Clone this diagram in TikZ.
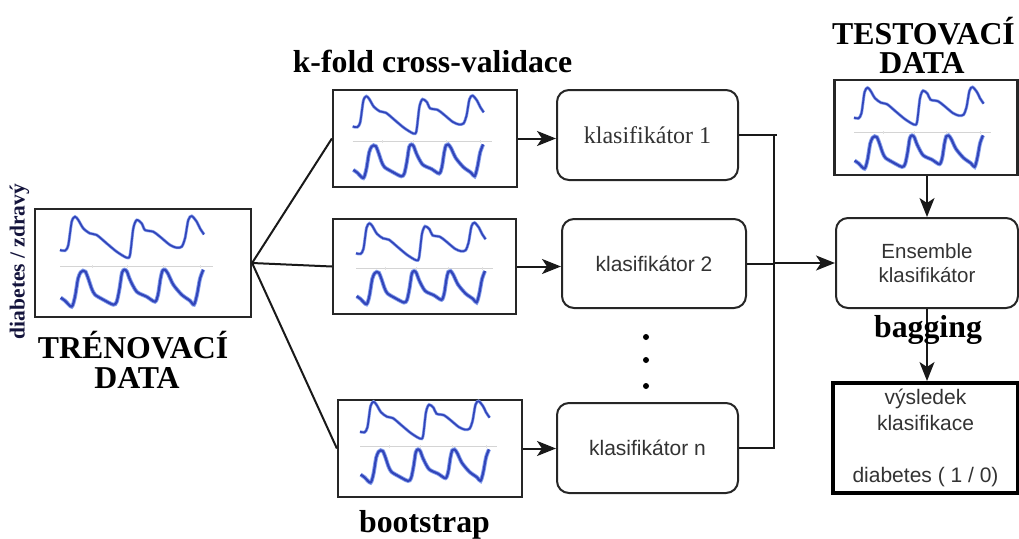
\documentclass[tikz,border=0pt]{standalone}
\usepackage{fontspec}
\setmainfont{Liberation Serif}
\newfontfamily\arialf{Liberation Sans}
\usetikzlibrary{arrows.meta}
\definecolor{wblue}{HTML}{3245BA}
\definecolor{whalo}{HTML}{86A0EC}
\definecolor{txtgray}{HTML}{333333}
\definecolor{navytxt}{HTML}{14143C}
\definecolor{sepgray}{HTML}{D4D4D4}
\tikzset{
  wave/.pic={
    \draw[sepgray, line width=1.4pt] (0,0) -- (152.7,0);
    \foreach \t in {32,67,103,140} \draw[sepgray!70, line width=0.6pt] (\t,-1.5) -- (\t,1.5);
    \draw[wblue, line width=1.7pt, line join=round, preaction={draw=whalo, line width=3pt}]
      plot[smooth, tension=0.45] coordinates {(0,-16.7) (5,-16) (8.3,-21.7) (11.7,-45) (15,-50) (18.3,-46.7) (23.3,-38.3) (30,-33.3) (36.7,-31.7) (46.7,-23.3) (56.7,-15) (66.7,-9) (70,-11.7) (73.3,-38.3) (76.7,-46.7) (81.7,-43.3) (85,-36.7) (93.3,-35) (100,-30) (110,-21.7) (116.7,-19) (121.7,-20) (125,-28.3) (128.3,-46.7) (131.7,-50.7) (136.7,-45) (140,-38.3) (144,-32.3)};
    \draw[wblue, line width=2.2pt, line join=round, preaction={draw=whalo, line width=4pt}]
      plot[smooth, tension=0.45] coordinates {(0.7,31) (5,34) (11.7,40) (15,30) (18,12) (20.7,5.5) (23,4) (25.5,5) (28.3,12) (31.7,22) (35,28) (43.3,33) (53.3,38) (56.7,35) (59.5,22) (62,6) (64.5,3) (67,5) (70,13) (76.7,25) (86.7,30) (95,35) (98,28) (100.5,12) (102.5,4) (105,3) (108,7) (113.3,18) (121.7,28) (130,34) (134,38) (137,28) (140,12) (143.3,3)};
  }
}
\begin{document}
\begin{tikzpicture}[x=1pt, y=-1pt,
  databox/.style={draw=black!85, line width=2.2pt, fill=white, inner sep=0pt},
  clsbox/.style={draw=black!85, line width=2pt, rounded corners=12pt, fill=white, text=txtgray, align=center, inner sep=0pt},
  resbox/.style={draw=black, line width=4pt, fill=white, text=txtgray, align=center, inner sep=0pt},
  conn/.style={line width=2pt, draw=black!90},
  arr/.style={conn, -{Stealth[length=19pt, width=15pt, inset=5pt]}},
  title/.style={font=\bfseries\fontsize{31.8}{30}\selectfont, anchor=base, inner sep=0pt},
  sanstxt/.style={font=\arialf\fontsize{21}{26}\selectfont},
  dotn/.style={circle, fill=black, inner sep=0pt, minimum size=6pt}
]
\useasboundingbox (0,0) rectangle (1019,538);

% data boxes
\node[databox, minimum width=216pt, minimum height=108pt] (train) at (143,263) {};
\node[databox, minimum width=184pt, minimum height=97pt] (b1) at (425,138.5) {};
\node[databox, minimum width=183pt, minimum height=95pt] (b2) at (424.5,266.5) {};
\node[databox, minimum width=184pt, minimum height=97pt] (b3) at (430,448.5) {};
\node[databox, minimum width=183pt, minimum height=95pt] (test) at (926,127.5) {};

% waveforms
\pic at (60,266.7) {wave};
\pic[scale=0.91] at (352.7,141.7) {wave};
\pic[scale=0.9] at (356,268.3) {wave};
\pic[scale=0.9] at (360,446.7) {wave};
\pic[scale=0.9] at (854,132.7) {wave};

% classifiers
\node[clsbox, minimum width=181pt, minimum height=90pt, font=\fontsize{24}{28}\selectfont] (c1) at (647.5,135) {klasifikátor 1};
\node[clsbox, sanstxt, minimum width=184pt, minimum height=89pt] (c2) at (654,263.5) {klasifikátor 2};
\node[clsbox, sanstxt, minimum width=181pt, minimum height=90pt] (cn) at (647.5,448) {klasifikátor n};
\node[clsbox, minimum width=182pt, minimum height=90pt, font=\arialf\fontsize{20.5}{24}\selectfont] (ens) at (927,263) {Ensemble\\klasifikátor};
\node[resbox, sanstxt, minimum width=185pt, minimum height=110pt] (res) at (925.5,438) {výsledek\\klasifikace\\[26pt]diabetes ( 1 / 0)};

% dots
\node[dotn] (dot1) at (646,337) {};
\node[dotn] (dot2) at (646,360) {};
\node[dotn] (dot3) at (646,386) {};

% titles
\node[title] (kfold) at (432.5,72) {k-fold cross-validace};
\node[title] (boot) at (424.5,532) {bootstrap};
\node[title] (trn1) at (133,358) {TRÉNOVACÍ};
\node[title] (trn2) at (137,388) {DATA};
\node[title] (tst1) at (923.5,44) {TESTOVACÍ};
\node[title] (tst2) at (922,73) {DATA};
\node[font=\bfseries\fontsize{21.5}{24}\selectfont, text=navytxt, rotate=90, anchor=base, inner sep=0pt] (lbl) at (24.5,261.5) {diabetes / zdravý};

% connectors
\draw[conn] (train.east) -- (b1.west);
\draw[conn] (train.east) -- (b2.west);
\draw[conn] (train.east) -- (b3.west);
\draw[arr] (b1.east) -- (b1.east -| c1.west);
\draw[arr] (b2.east) -- (b2.east -| c2.west);
\draw[arr] (b3.east) -- (b3.east -| cn.west);

\coordinate (busT) at (777,135);
\coordinate (busTop) at (774,135);
\coordinate (busBot) at (774,448);
\draw[conn] (c1.east) -- (busT);
\draw[conn] (busTop) -- (busBot) -- (cn.east);
\draw[conn] (c2.east) -- (c2.east -| busTop);
\draw[arr] (ens.west -| busTop) -- (ens.west);

\draw[arr] (test.south -| ens.north) -- (ens.north);
\draw[arr] (ens.south) -- (ens.south |- res.north);
\node[title] at (928,337) (bag) {bagging};
\end{tikzpicture}
\end{document}
